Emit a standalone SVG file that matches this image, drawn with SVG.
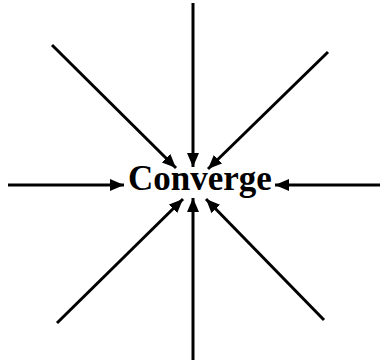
<svg xmlns="http://www.w3.org/2000/svg" width="382" height="364" viewBox="0 0 382 364">
<style>
.c line{stroke:#000;stroke-width:3;marker-end:url(#ah)}
.t{font-family:"Liberation Serif","Times New Roman",serif;font-weight:bold;font-size:35px;fill:#000}
</style>
<defs>
<marker id="ah" markerUnits="userSpaceOnUse" viewBox="0 0 14 12" refX="14" refY="6" markerWidth="14" markerHeight="12" orient="auto">
<path d="M0,0 L14,6 L0,12 Z" fill="#000"/>
</marker>
</defs>
<rect width="382" height="364" fill="#fff"/>
<g class="c" id="connectors">
<line x1="193" y1="3" x2="193" y2="167"/>
<line x1="52" y1="45" x2="176" y2="168"/>
<line x1="328" y1="52" x2="208" y2="169"/>
<line x1="8" y1="185" x2="124" y2="185"/>
<line x1="380" y1="185" x2="275" y2="185"/>
<line x1="57" y1="323" x2="183" y2="199"/>
<line x1="193" y1="360" x2="193" y2="198"/>
<line x1="324" y1="320" x2="206" y2="199"/>
</g>
<g id="converge">
<text class="t" x="200" y="190" text-anchor="middle">Converge</text>
</g>
</svg>
